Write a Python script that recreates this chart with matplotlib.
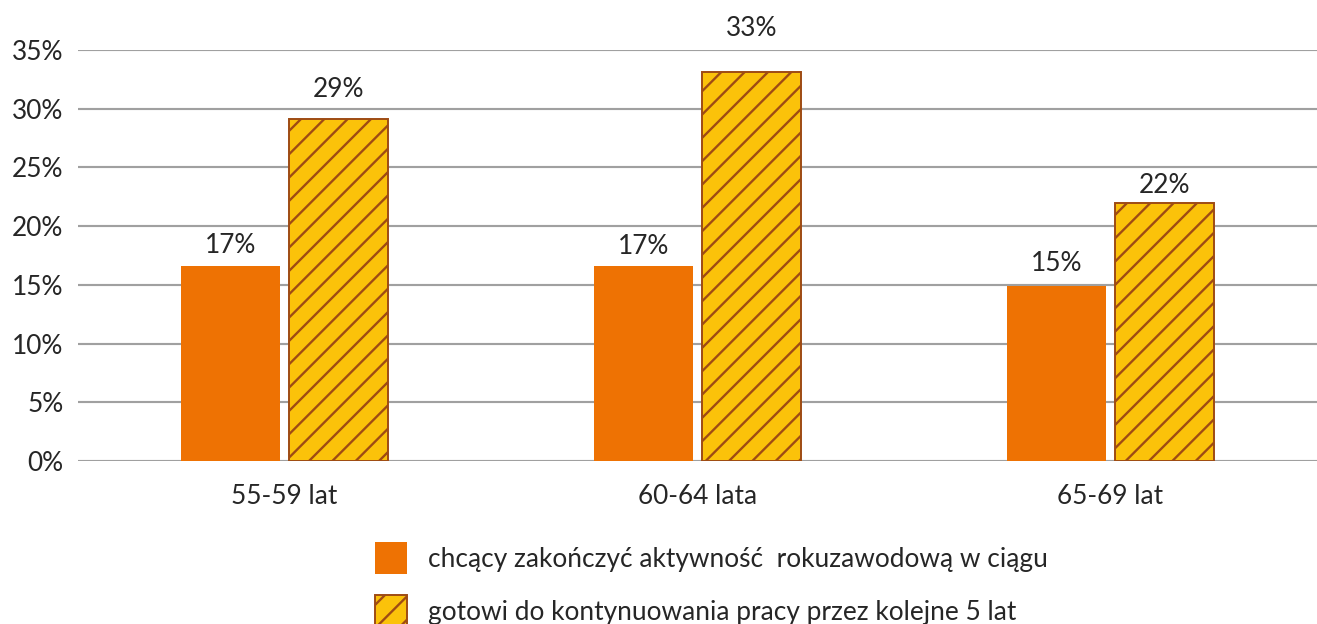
import matplotlib
matplotlib.use("Agg")
import matplotlib.pyplot as plt
import numpy as np
from matplotlib.patches import Patch

plt.rcParams.update({
    "font.family": ["Lato", "DejaVu Sans"],
    "font.size": 13.5,
    "hatch.linewidth": 1.2,
    "text.color": "#262626",
})

# Data
categories = ["55-59 lat", "60-64 lata", "65-69 lat"]
finish_vals = [16.6, 16.6, 14.9]
continue_vals = [29.1, 33.1, 22.0]
finish_labels = ["17%", "17%", "15%"]
continue_labels = ["29%", "33%", "22%"]
series_names = [
    "chcący zakończyć aktywność  rokuzawodową w ciągu",
    "gotowi do kontynuowania pracy przez kolejne 5 lat",
]

# label baseline gap above bar top, pixels (labels were hand-placed)
finish_gap_px = [13, 12, 15]
continue_gap_px = [22, 36, 10]

ORANGE = "#ee7203"
YELLOW = "#fbc20a"
BROWN = "#9e4b14"
GRID = "#a0a0a0"
FS = 13.5

DPI = 140
PX = 72 / DPI
fig = plt.figure(figsize=(1317 / DPI, 624 / DPI), dpi=DPI)
ax = fig.add_axes([78 / 1317, 1 - 461 / 624, 1 - 78 / 1317, (461 - 50) / 624])

x = np.arange(len(categories))
w = 0.24
gap = 0.022
b1 = ax.bar(x - (w + gap) / 2, finish_vals, w, color=ORANGE, zorder=3)
b2 = ax.bar(x + (w + gap) / 2, continue_vals, w, color=YELLOW,
            edgecolor=BROWN, hatch="//", linewidth=1.0, zorder=3)

for bars, labels, gaps in ((b1, finish_labels, finish_gap_px),
                           (b2, continue_labels, continue_gap_px)):
    for r, lab, g in zip(bars, labels, gaps):
        ax.annotate(lab, (r.get_x() + r.get_width() / 2, r.get_height()),
                    xytext=(0, g * PX), textcoords="offset points",
                    ha="center", va="baseline", fontsize=FS,
                    annotation_clip=False)

ax.set_xlim(-0.5, len(categories) - 0.5)
ax.set_ylim(0, 35)
ax.set_yticks(np.arange(0, 36, 5))
ax.set_yticklabels([f"{v}%" for v in range(0, 36, 5)])
ax.set_xticks(x)
ax.set_xticklabels(categories)
ax.tick_params(axis="both", length=0, labelsize=FS, colors="#262626")
ax.tick_params(axis="y", pad=7.5)
ax.tick_params(axis="x", pad=12)
ax.grid(axis="y", color=GRID, linewidth=1.1, zorder=0)
ax.set_axisbelow(True)
for s in ax.spines.values():
    s.set_visible(False)

handles = [
    Patch(facecolor=ORANGE, edgecolor="none"),
    Patch(facecolor=YELLOW, edgecolor=BROWN, hatch="//", linewidth=1.0),
]
fig.legend(handles, series_names, loc="upper left",
           bbox_to_anchor=(370 / 1317, 1 - 537 / 624),
           frameon=False, fontsize=FS, handlelength=1.22, handleheight=1.5,
           handletextpad=0.8, labelspacing=0.8, borderpad=0.2,
           borderaxespad=0)

fig.savefig("out.png", dpi=DPI)
